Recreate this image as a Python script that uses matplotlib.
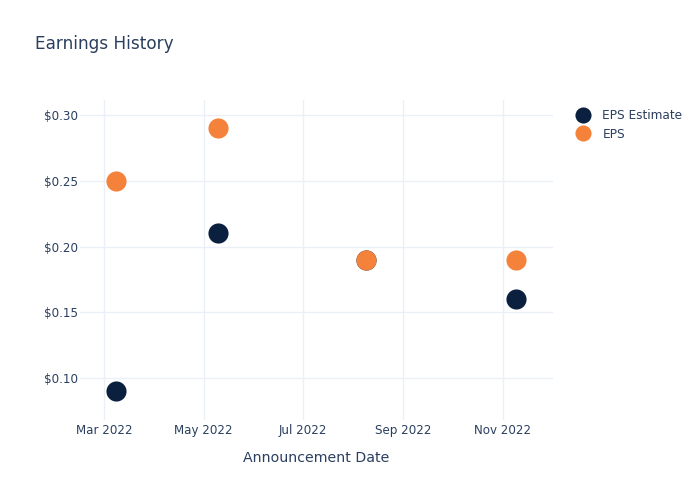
import matplotlib.pyplot as plt
import matplotlib.dates as mdates
import pandas as pd

# Data
dates = pd.to_datetime(['2022-03-08', '2022-05-10', '2022-08-09', '2022-11-09'])
eps_estimate = [0.09, 0.21, 0.19, 0.16]
eps_actual = [0.25, 0.29, 0.19, 0.19]

text_col = '#2a3f5f'
grid_col = '#ebf0f8'

fig = plt.figure(figsize=(7, 5), dpi=100)
ax = fig.add_axes([80 / 700, 0.16, (553 - 80) / 700, 0.64])

ax.plot(dates, eps_estimate, 'o', ms=14.5, color='#0b1f3f', mec='none', label='EPS Estimate', zorder=3)
ax.plot(dates, eps_actual, 'o', ms=14.5, color='#f5823a', mec='none', label='EPS', zorder=4)

ax.set_xlim(pd.Timestamp('2022-02-14'), pd.Timestamp('2022-12-02'))
ax.set_ylim(0.0683, 0.3114)
ax.set_yticks([0.10, 0.15, 0.20, 0.25, 0.30])
ax.yaxis.set_major_formatter(plt.FuncFormatter(lambda v, p: f'${v:.2f}'))
ax.xaxis.set_major_locator(mdates.MonthLocator(bymonth=[3, 5, 7, 9, 11]))
ax.xaxis.set_major_formatter(mdates.DateFormatter('%b %Y'))

ax.grid(True, color=grid_col, lw=1)
ax.set_axisbelow(True)
for s in ax.spines.values():
    s.set_visible(False)
ax.tick_params(length=0, labelsize=8.6, colors=text_col)
ax.tick_params(axis='x', pad=3)
ax.tick_params(axis='y', pad=1.5)

ax.set_xlabel('Announcement Date', fontsize=10.2, color=text_col, labelpad=10)
fig.text(35 / 700, 1 - 44 / 500, 'Earnings History', fontsize=12.2, color=text_col, va='center')

leg = ax.legend(loc='upper left', bbox_to_anchor=(1.025, 1.005), frameon=False,
                fontsize=8.7, labelcolor=text_col, handletextpad=1.0,
                labelspacing=0.45, markerscale=0.8, handlelength=1.2)

fig.savefig('out.png', dpi=100)
